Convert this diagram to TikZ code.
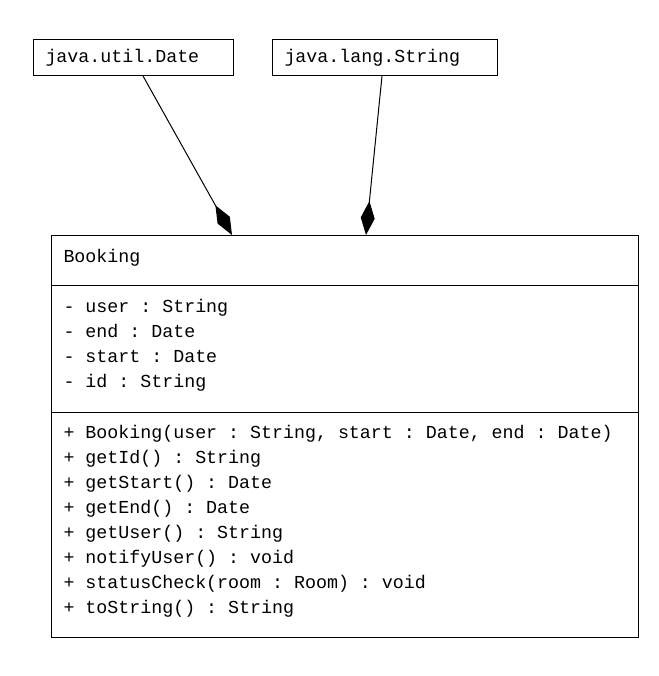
\documentclass[tikz,border=0pt]{standalone}
\usepackage{fontspec}
\setmonofont{Liberation Mono}
\usetikzlibrary{arrows.meta,calc}
\begin{document}
\begin{tikzpicture}[x=1pt,y=-1pt,line width=1pt,
  box/.style={draw=black,rectangle,inner sep=0pt,anchor=north west},
  txt/.style={anchor=base west,inner sep=0pt,font=\ttfamily\fontsize{18.3}{25}\selectfont},
  comp/.style={draw=black,-{Diamond[length=34pt,width=14pt,fill=black]}}]
\useasboundingbox (0,0) rectangle (658,676);
\node[box,minimum width=200pt,minimum height=36pt] (date) at (33,39) {};
\node[box,minimum width=225pt,minimum height=36pt] (str) at (272,39) {};
\node[txt] (datet) at (45,63) {java.util.Date};
\node[txt] (strt) at (284,63) {java.lang.String};
\node[box,minimum width=587pt,minimum height=402pt] (bk) at (51,235) {};
\draw (51,285) -- (638,285);
\draw (51,412) -- (638,412);
\node[txt] (title) at (63,262) {Booking};
\node[txt] (a1) at (63,312) {- user : String};
\node[txt] (a2) at (63,337) {- end : Date};
\node[txt] (a3) at (63,362) {- start : Date};
\node[txt] (a4) at (63,387) {- id : String};
\node[txt] (m1) at (63,438) {+ Booking(user : String, start : Date, end : Date)};
\node[txt] (m2) at (63,463) {+ getId() : String};
\node[txt] (m3) at (63,488) {+ getStart() : Date};
\node[txt] (m4) at (63,513) {+ getEnd() : Date};
\node[txt] (m5) at (63,538) {+ getUser() : String};
\node[txt] (m6) at (63,563) {+ notifyUser() : void};
\node[txt] (m7) at (63,588) {+ statusCheck(room : Room) : void};
\node[txt] (m8) at (63,613) {+ toString() : String};
\coordinate (dfrom) at ($(date.south west)+(110,0)$);
\coordinate (dto) at ($(bk.north west)+(181,0)$);
\coordinate (sfrom) at ($(str.south west)+(110,0)$);
\coordinate (sto) at ($(bk.north west)+(315,0)$);
\draw[comp] (dfrom) -- (dto);
\draw[comp] (sfrom) -- (sto);
\end{tikzpicture}
\end{document}
